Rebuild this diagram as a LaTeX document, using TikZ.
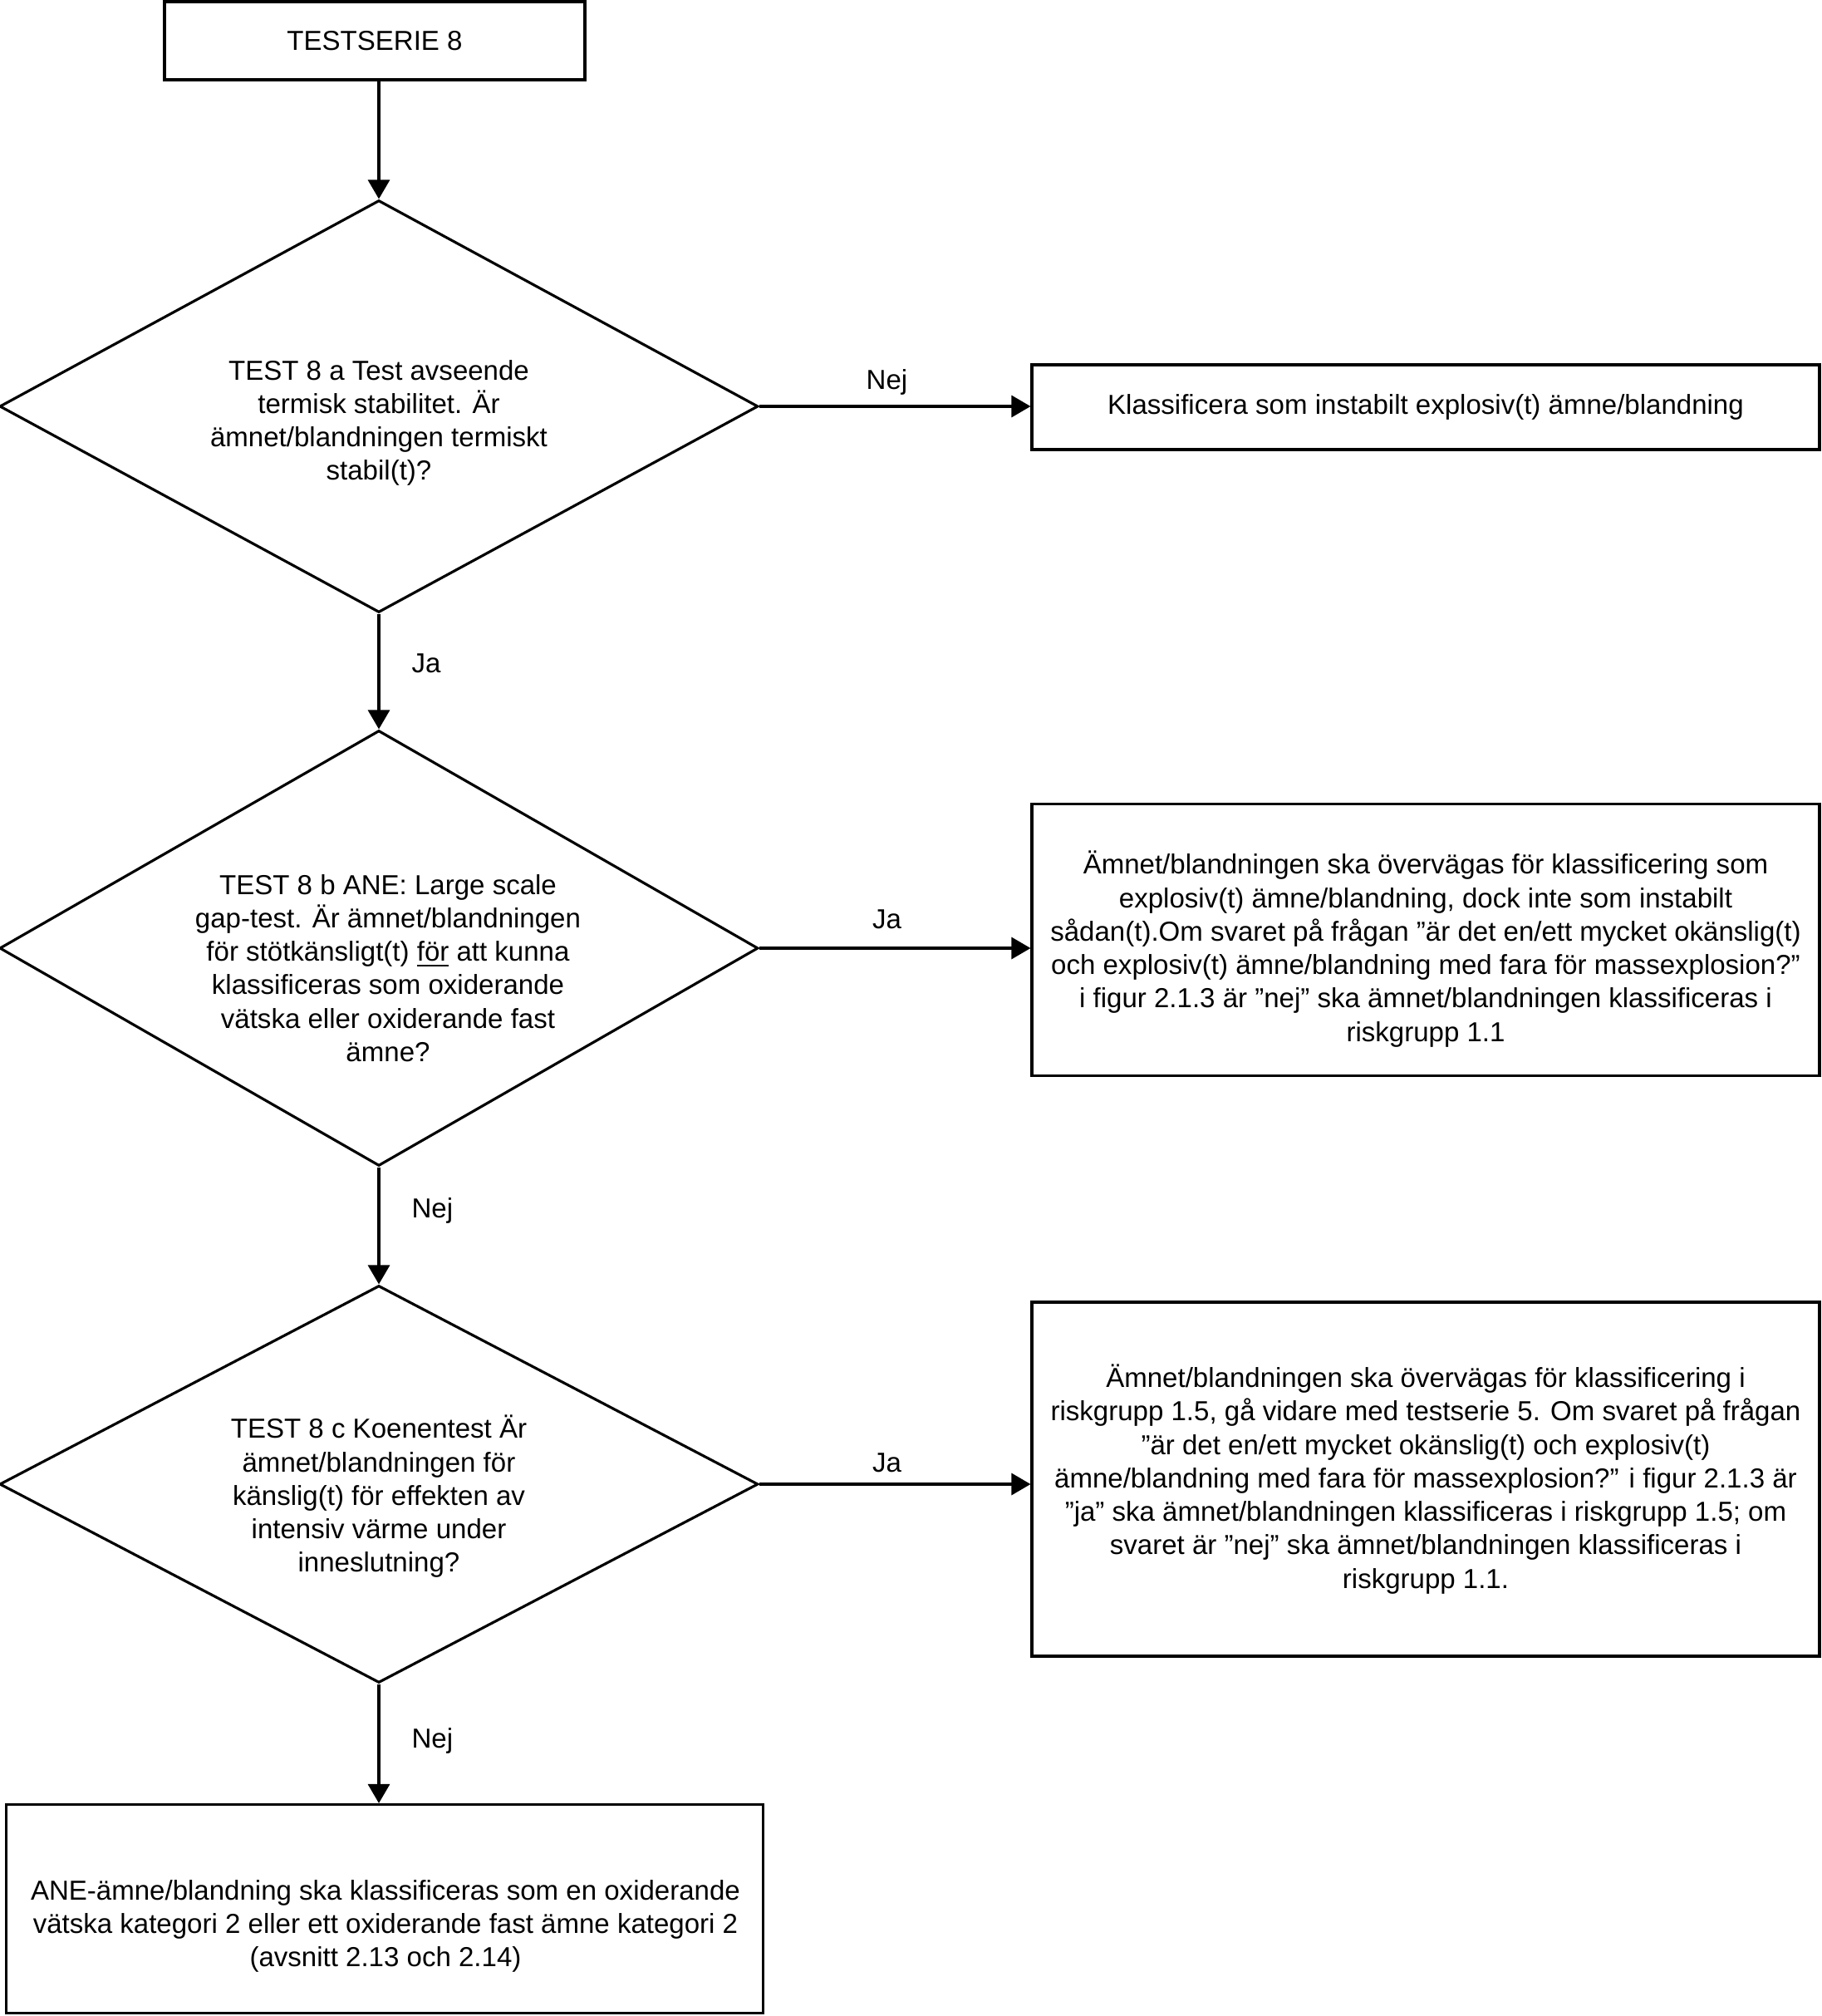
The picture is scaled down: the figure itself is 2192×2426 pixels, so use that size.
\documentclass[tikz,border=0pt]{standalone}
\usepackage{fontspec}
\setmainfont{Liberation Sans}
\usetikzlibrary{shapes.geometric,arrows.meta}
\tikzset{
  flowlines/.style={line width=0.9pt},
  box/.style={flowlines, draw=black, rectangle, inner sep=0pt, align=center,
    font=\fontsize{9.4}{11.45}\selectfont},
  dia/.style={flowlines, draw=black, diamond, inner sep=0pt},
  txt/.style={align=center, inner sep=0pt, font=\fontsize{9.4}{11.45}\selectfont},
  arr/.style={flowlines, -{Triangle[length=2.3mm,width=2.6mm]}},
  ans/.style={inner sep=0pt, font=\fontsize{9.4}{11.45}\selectfont},
}

\begin{document}
\begin{tikzpicture}[x=0.1mm, y=-0.1mm]
\useasboundingbox (0,0) rectangle (2192,2426);

% start
\node[box, minimum width=50.6mm, minimum height=9.4mm] (start) at (451,49) {TESTSERIE 8};

% questions
\node[dia, minimum width=91.3mm, minimum height=49.6mm] (q1) at (456,489) {};
\node[txt] (q1txt) at (456,509) {TEST 8 a Test avseende\\termisk stabilitet. Är\\ämnet/blandningen termiskt\\stabil(t)?};

\node[dia, minimum width=91.3mm, minimum height=52.4mm] (q2) at (456,1141) {};
\node[txt] (q2txt) at (467,1165) {TEST 8 b ANE: Large scale\\gap-test. Är ämnet/blandningen\\för stötkänsligt(t) \underline{för} att kunna\\klassificeras som oxiderande\\vätska eller oxiderande fast\\ämne?};

\node[dia, minimum width=91.3mm, minimum height=47.8mm] (q3) at (456,1786) {};
\node[txt] (q3txt) at (456,1801) {TEST 8 c Koenentest Är\\ämnet/blandningen för\\känslig(t) för effekten av\\intensiv värme under\\inneslutning?};

% results
\node[box, minimum width=94.8mm, minimum height=10.2mm] (r1) at (1716,490) {Klassificera som instabilt explosiv(t) ämne/blandning};

\node[box, minimum width=94.8mm, minimum height=32.7mm] (r2) at (1716,1131) {};
\node[txt] (r2txt) at (1716,1142) {Ämnet/blandningen ska övervägas för klassificering som\\explosiv(t) ämne/blandning, dock inte som instabilt\\sådan(t).Om svaret på frågan ”är det en/ett mycket okänslig(t)\\och explosiv(t) ämne/blandning med fara för massexplosion?”\\i figur 2.1.3 är ”nej” ska ämnet/blandningen klassificeras i\\riskgrupp 1.1};

\node[box, minimum width=94.8mm, minimum height=42.6mm] (r3) at (1716,1780) {Ämnet/blandningen ska övervägas för klassificering i\\riskgrupp 1.5, gå vidare med testserie 5. Om svaret på frågan\\”är det en/ett mycket okänslig(t) och explosiv(t)\\ämne/blandning med fara för massexplosion?” i figur 2.1.3 är\\”ja” ska ämnet/blandningen klassificeras i riskgrupp 1.5; om\\svaret är ”nej” ska ämnet/blandningen klassificeras i\\riskgrupp 1.1.};

\node[box, minimum width=91.1mm, minimum height=25.1mm] (fin) at (463,2297) {};
\node[txt] (fintxt) at (464,2318) {ANE-ämne/blandning ska klassificeras som en oxiderande\\vätska kategori 2 eller ett oxiderande fast ämne kategori 2\\(avsnitt 2.13 och 2.14)};

% arrows
\draw[arr] (start.south -| q1.north) -- (q1.north);
\draw[arr] (q1.east) -- (q1.east -| r1.west) node[ans, pos=.47, anchor=base, yshift=2.1mm] {Nej};
\draw[arr] (q1.south) -- (q2.north) node[ans, pos=.43, anchor=west, xshift=3.8mm] {Ja};
\draw[arr] (q2.east) -- (q2.east -| r2.west) node[ans, pos=.47, anchor=base, yshift=2.4mm] {Ja};
\draw[arr] (q2.south) -- (q3.north) node[ans, pos=.37, anchor=west, xshift=3.8mm] {Nej};
\draw[arr] (q3.east) -- (q3.east -| r3.west) node[ans, pos=.47, anchor=base, yshift=1.5mm] {Ja};
\draw[arr] (q3.south) -- (q3.south |- fin.north) node[ans, pos=.48, anchor=west, xshift=3.8mm] {Nej};
\end{tikzpicture}
\end{document}
